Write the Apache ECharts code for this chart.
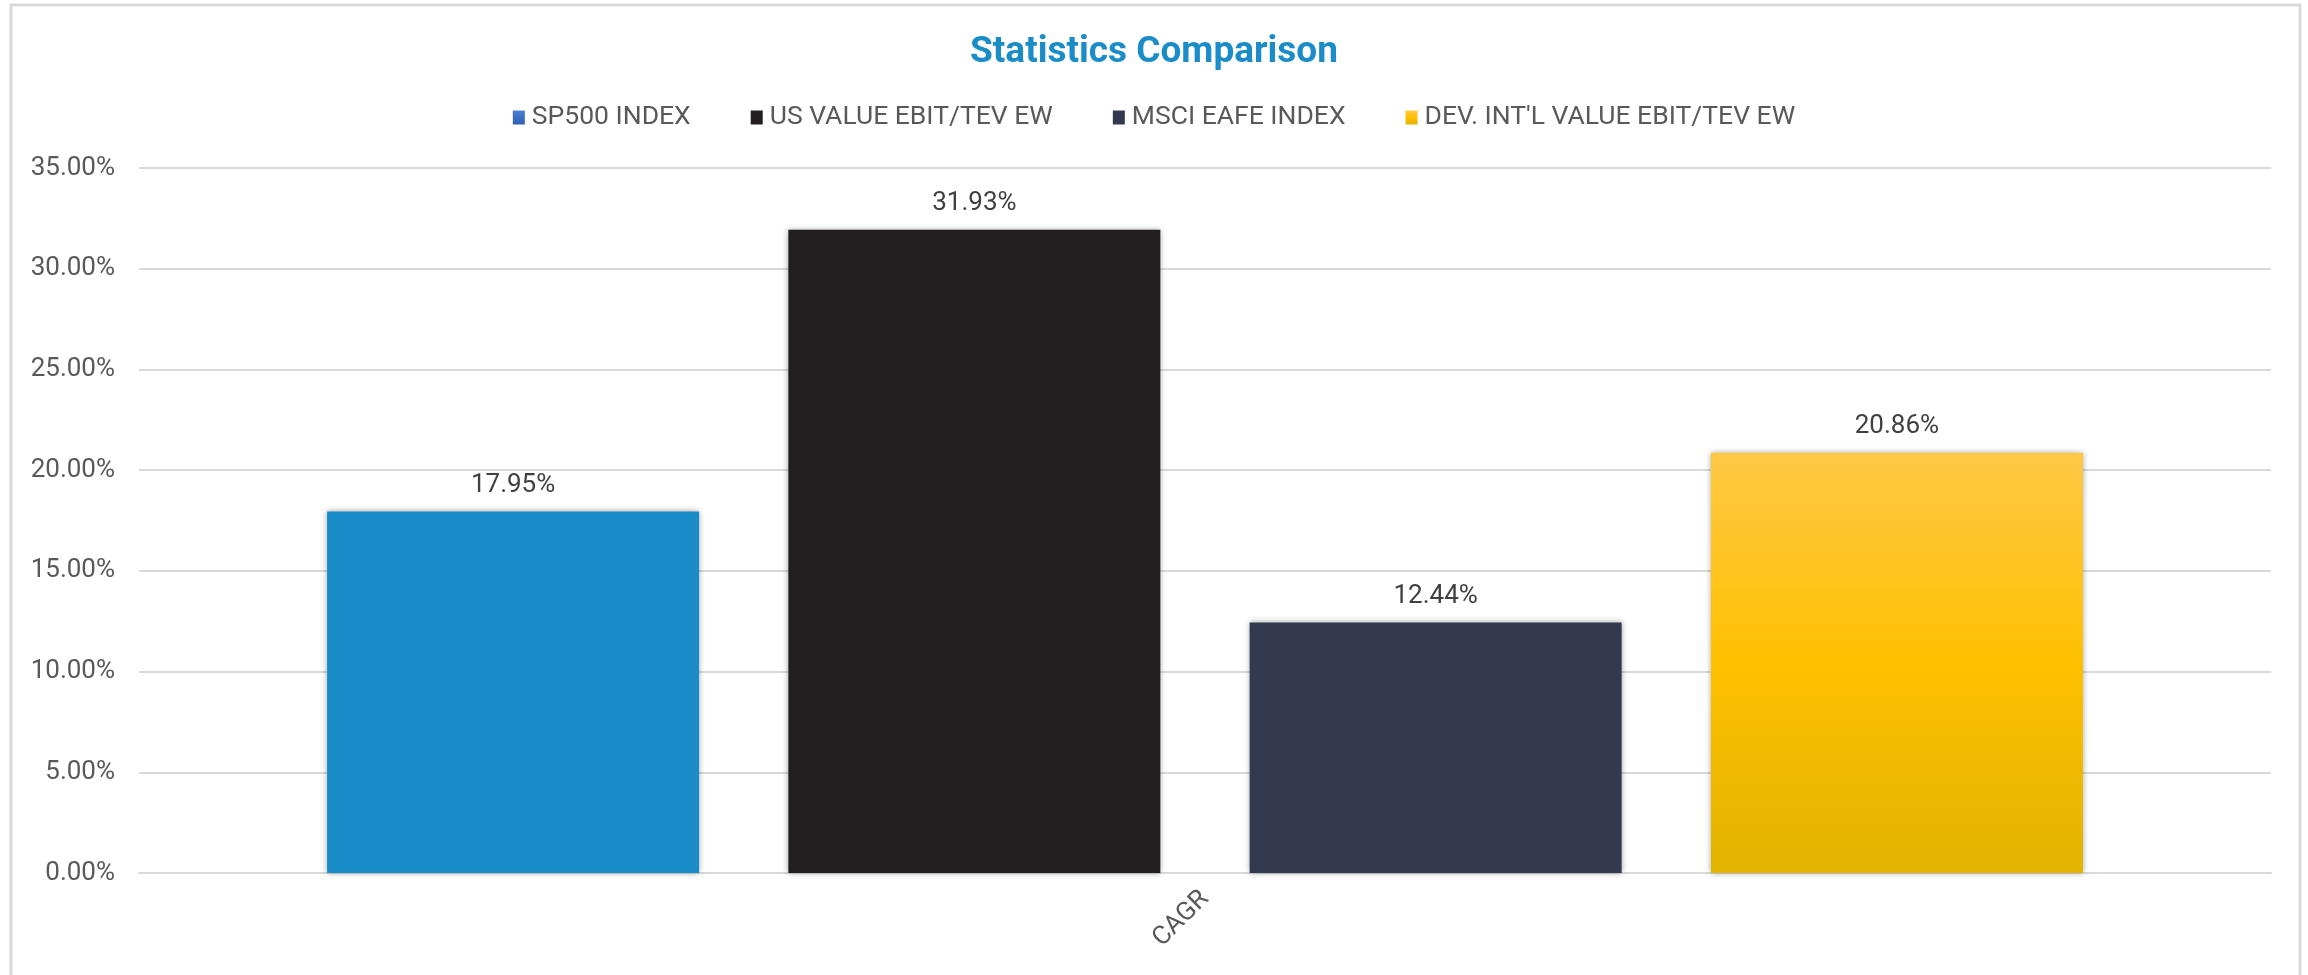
<!DOCTYPE html>
<html>
<head>
<meta charset="utf-8">
<script src="https://cdn.jsdelivr.net/npm/echarts@6/dist/echarts.min.js"></script>
<style>
html,body{margin:0;padding:0;background:#fff;}
#chart{width:2308px;height:975px;}
</style>
</head>
<body>
<div id="chart"></div>
<script>
const categories = ['CAGR'];
const seriesNames = ['SP500 INDEX', 'US VALUE EBIT/TEV EW', 'MSCI EAFE INDEX', "DEV. INT'L VALUE EBIT/TEV EW"];
const sp500 = [17.95];
const usValue = [31.93];
const msciEafe = [12.44];
const devIntlValue = [20.86];
const yTicks = {min: 0, max: 35, interval: 5};

const chart = echarts.init(document.getElementById('chart'), null, {renderer: 'canvas'});
const fmt = v => Number(v).toFixed(2) + '%';
const labelCfg = {show: true, position: 'top', distance: 13, fontSize: 26, color: '#404040', fontFamily: 'Roboto', formatter: p => fmt(p.value)};
const shadow = {shadowBlur: 6, shadowColor: 'rgba(0,0,0,0.35)'};

const yellowGrad = new echarts.graphic.LinearGradient(0, 0, 0, 1, [
  {offset: 0, color: '#ffc845'},
  {offset: 0.5, color: '#ffc000'},
  {offset: 1, color: '#e2b300'}
]);
const legendBlue = new echarts.graphic.LinearGradient(0, 0, 0, 1, [
  {offset: 0, color: '#4a7fd6'},
  {offset: 1, color: '#2f5fb3'}
]);

const option = {
  backgroundColor: '#fff',
  animation: false,
  title: {
    text: 'Statistics Comparison',
    left: 'center',
    top: 29,
    textStyle: {fontFamily: 'Roboto', fontSize: 37, fontWeight: 'bold', color: '#1a8cc8'}
  },
  legend: {
    top: 99,
    left: 'center',
    icon: 'rect',
    itemWidth: 12,
    itemHeight: 14,
    itemGap: 60,
    textStyle: {fontFamily: 'Roboto', fontSize: 26.5, color: '#595959', padding: [0, 0, 0, 2]},
    data: [
      {name: seriesNames[0], itemStyle: {color: legendBlue}},
      {name: seriesNames[1]},
      {name: seriesNames[2]},
      {name: seriesNames[3]}
    ]
  },
  grid: {left: 139, right: 37, top: 168, bottom: 102, containLabel: false},
  xAxis: {
    type: 'category',
    data: categories,
    axisTick: {show: false},
    axisLine: {lineStyle: {color: '#d9d9d9', width: 2}},
    axisLabel: {rotate: 45, margin: 22, fontFamily: 'Roboto', fontSize: 26, color: '#595959'}
  },
  yAxis: {
    type: 'value',
    min: yTicks.min,
    max: yTicks.max,
    interval: yTicks.interval,
    axisLine: {show: false},
    axisTick: {show: false},
    splitLine: {lineStyle: {color: '#d9d9d9', width: 2}},
    axisLabel: {margin: 24, fontFamily: 'Roboto', fontSize: 26, color: '#595959', formatter: v => fmt(v)}
  },
  graphic: [{
    type: 'rect',
    silent: true,
    z: -10,
    shape: {x: 11, y: 5, width: 2289, height: 1000},
    style: {fill: 'none', stroke: '#d9d9d9', lineWidth: 3}
  }],
  series: [
    {name: seriesNames[0], type: 'bar', data: sp500, barWidth: 372, barGap: '24%', itemStyle: Object.assign({color: '#1a8cc8'}, shadow), label: labelCfg},
    {name: seriesNames[1], type: 'bar', data: usValue, barWidth: 372, barGap: '24%', itemStyle: Object.assign({color: '#231f20'}, shadow), label: labelCfg},
    {name: seriesNames[2], type: 'bar', data: msciEafe, barWidth: 372, barGap: '24%', itemStyle: Object.assign({color: '#333a4f'}, shadow), label: labelCfg},
    {name: seriesNames[3], type: 'bar', data: devIntlValue, barWidth: 372, barGap: '24%', itemStyle: Object.assign({color: yellowGrad}, shadow), label: labelCfg}
  ]
};
chart.setOption(option);
</script>
</body>
</html>
